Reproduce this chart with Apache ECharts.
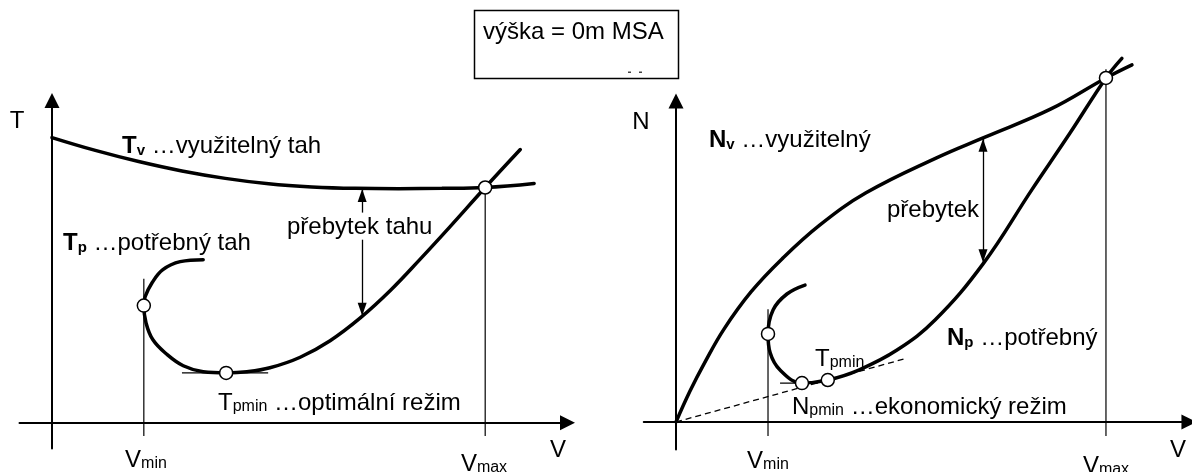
<!DOCTYPE html>
<html>
<head>
<meta charset="utf-8">
<script src="https://cdn.jsdelivr.net/npm/echarts@6/dist/echarts.min.js"></script>
<style>
  html, body { margin: 0; padding: 0; background: #fff; }
  #chart { width: 1192px; height: 472px; }
</style>
</head>
<body>
<div id="chart"></div>
<script>
// ---- Thrust diagram (T over V); V in % of Vmax, T in % of available thrust at V = 0
const tvCurve = [[0, 100], [10, 95.5], [20, 91.6], [30, 88.3], [40, 85.7], [50, 83.8], [60, 82.7],
                 [70, 82.2], [80, 82.1], [90, 82.2], [100, 82.5], [111.3, 83.9]];
const tpCurve = [[34.9, 57.2], [29.6, 56.5], [25.6, 53.7], [23.1, 49.1], [21.5, 44.2], [21.2, 41.1],
                 [21.7, 35.1], [23.3, 29.1], [26.6, 23.9], [30.3, 20.0], [34.9, 17.9], [40.2, 17.5],
                 [45.0, 17.9], [50.3, 19.3], [57.3, 23.0], [64.2, 28.8], [71.1, 36.7], [78.1, 46.4],
                 [85.0, 57.4], [91.9, 68.8], [100, 82.5], [108.1, 95.8]];
const tPoints = [[21.2, 41.1], [40.2, 17.5], [100, 82.5]];          // Vmin, Tpmin, Vmax
const tVminLine = [[21.2, 50.5], [21.2, -4.6]];
const tVmaxLine = [[100, 82.5], [100, -4.6]];
const tTangent = [[30, 17.5], [49.9, 17.5]];
const tSurplusUp = [[71.6, 73.7], [71.6, 82]];
const tSurplusDown = [[71.6, 64.2], [71.6, 37.5]];

// ---- Power diagram (N over V); V in % of Vmax, N in % of available power at Vmax
const nvCurve = [[0, 0], [3.26, 9.0], [6.74, 17.4], [11.16, 27.0], [17.44, 37.8], [24.65, 47.4],
                 [33.49, 57.3], [44.19, 66.6], [60.47, 76.7], [71.86, 82.8], [87.21, 91.0],
                 [100, 100], [106.05, 103.8]];
const npCurve = [[30.0, 39.8], [25.8, 37.2], [22.6, 32.6], [21.4, 25.6], [21.9, 20.1], [24.2, 15.1],
                 [29.3, 11.3], [35.3, 12.2], [42.5, 15.1], [51.4, 20.9], [60.3, 29.7], [71.5, 46.1],
                 [82.7, 67.4], [91.6, 83.9], [100, 100], [103.7, 105.7]];
const nPoints = [[21.4, 25.6], [29.3, 11.3], [35.3, 12.2], [100, 100]]; // Vmin, Npmin, Tpmin, Vmax
const nVminLine = [[21.4, 32.8], [21.4, -4.1]];
const nVmaxLine = [[100, 102.5], [100, -4.1]];
const nTangent = [[24.2, 11.3], [33, 11.3]];
const nEconomyRay = [[0, 0], [53.3, 18.4]];
const nSurplus = [[71.4, 82.3], [71.4, 46.4]];

const FONT = '"Liberation Sans", Arial, Helvetica, sans-serif';
const INK = '#000';

function axisPair(gridIndex, min, max) {
  return {
    gridIndex, type: 'value', min, max,
    axisLine: { show: true, onZero: true, symbol: ['none', 'triangle'], symbolSize: [15, 15],
                lineStyle: { color: INK, width: 2 } },
    axisTick: { show: false }, axisLabel: { show: false }, splitLine: { show: false }
  };
}

function curve(data, xi) {
  return { type: 'line', xAxisIndex: xi, yAxisIndex: xi, data, smooth: 0.4, symbol: 'none',
           clip: false, silent: true, lineStyle: { color: INK, width: 3.5, cap: 'round' }, z: 3 };
}

function thin(data, xi, width, type) {
  return { type: 'line', xAxisIndex: xi, yAxisIndex: xi, data, symbol: 'none', clip: false, silent: true,
           lineStyle: { color: INK, width: width || 1.2, type: type || 'solid' }, z: 2 };
}

function arrow(seg, xi, symbols) {
  return { type: 'line', xAxisIndex: xi, yAxisIndex: xi, data: [], silent: true,
           markLine: { silent: true, symbol: symbols, symbolSize: [9, 13],
                       symbolOffset: [[0, 6.5], [0, 6.5]],
                       label: { show: false }, lineStyle: { color: INK, width: 1.3, type: 'solid' },
                       emphasis: { disabled: true }, animation: false,
                       data: [[{ coord: seg[0] }, { coord: seg[1] }]] } };
}

function rings(data, xi) {
  return { type: 'scatter', xAxisIndex: xi, yAxisIndex: xi, data, symbol: 'circle', symbolSize: 13,
           clip: false, silent: true, z: 5,
           itemStyle: { color: '#fff', borderColor: INK, borderWidth: 1.5, opacity: 1 } };
}

const rich = {
  n: { fontFamily: FONT, fontSize: 24, fill: INK },
  b: { fontFamily: FONT, fontSize: 24, fontWeight: 'bold', fill: INK },
  bs: { fontFamily: FONT, fontSize: 15, fontWeight: 'bold', fill: INK, verticalAlign: 'bottom' },
  s: { fontFamily: FONT, fontSize: 16, fill: INK, verticalAlign: 'bottom' }
};

function label(x, y, text, align) {
  return { type: 'text', x, y, silent: true, z: 10,
           style: { text, rich, align: align || 'left', verticalAlign: 'middle',
                    fontFamily: FONT, fontSize: 24, fill: INK } };
}

const option = {
  animation: false,
  backgroundColor: '#fff',
  grid: [
    { left: 19.5, top: 100.5, width: 548, height: 348 },
    { left: 643.75, top: 101, width: 545.2, height: 348.5 }
  ],
  xAxis: [axisPair(0, -7.5, 119), axisPair(1, -7.5, 119.3)],
  yAxis: [axisPair(0, -9, 113), axisPair(1, -8, 93.3)],
  series: [
    curve(tvCurve, 0), curve(tpCurve, 0),
    thin(tVminLine, 0), thin(tVmaxLine, 0), thin(tTangent, 0),
    arrow(tSurplusUp, 0, ['none', 'triangle']), arrow(tSurplusDown, 0, ['none', 'triangle']),
    rings(tPoints, 0),

    curve(nvCurve, 1), curve(npCurve, 1),
    thin(nVminLine, 1), thin(nVmaxLine, 1), thin(nTangent, 1),
    thin(nEconomyRay, 1, 1.3, [6, 4]),
    arrow(nSurplus, 1, ['triangle', 'triangle']),
    rings(nPoints, 1)
  ],
  graphic: [
    { type: 'rect', shape: { x: 474.5, y: 10.5, width: 204, height: 68 }, silent: true,
      style: { fill: '#fff', stroke: INK, lineWidth: 1.5 } },
    label(483, 32, '{n|výška = 0m MSA}'),
    // two faint ink specks near the lower edge of the altitude box
    { type: 'rect', shape: { x: 628, y: 71.5, width: 3, height: 1.5 }, silent: true, style: { fill: '#444' } },
    { type: 'rect', shape: { x: 639, y: 71.5, width: 3, height: 1.5 }, silent: true, style: { fill: '#444' } },

    label(17, 121, '{n|T}', 'center'),
    label(558, 450, '{n|V}', 'center'),
    label(146, 460, '{n|V}{s|min}', 'center'),
    label(484, 464, '{n|V}{s|max}', 'center'),
    label(122, 146, '{b|T}{bs|v}{n| …využitelný tah}'),
    label(63, 243, '{b|T}{bs|p}{n| …potřebný tah}'),
    label(287, 227, '{n|přebytek tahu}'),
    label(218, 403, '{n|T}{s|pmin}{n| …optimální režim}'),

    label(641, 122, '{n|N}', 'center'),
    label(1178, 450, '{n|V}', 'center'),
    label(768, 461, '{n|V}{s|min}', 'center'),
    label(1106, 466, '{n|V}{s|max}', 'center'),
    label(709, 140, '{b|N}{bs|v}{n| …využitelný}'),
    label(887, 210, '{n|přebytek}'),
    label(947, 338, '{b|N}{bs|p}{n| …potřebný}'),
    label(815, 359, '{n|T}{s|pmin}'),
    label(792, 407, '{n|N}{s|pmin}{n| …ekonomický režim}')
  ]
};

const chart = echarts.init(document.getElementById('chart'), null, { renderer: 'canvas' });
chart.setOption(option);
</script>
</body>
</html>
